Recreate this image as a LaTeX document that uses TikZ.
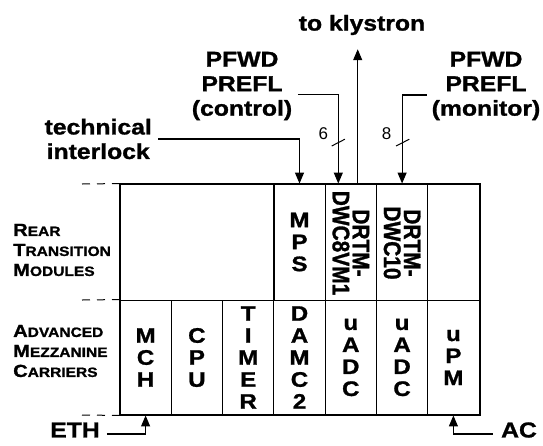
\documentclass[tikz,border=0pt]{standalone}
\usepackage{fontspec}
\setmainfont{Liberation Sans}
\newfontfamily\widefont{Liberation Sans}[FakeStretch=1.15,FakeBold=1.2]
\newfontfamily\stackfont{Liberation Sans}[FakeStretch=1.15,FakeBold=1.2]
\newfontfamily\tallfont{Liberation Sans}[FakeStretch=0.87,FakeBold=1.2]
\usetikzlibrary{arrows.meta,positioning}

% fake small caps: big initial, small rest
\newcommand{\fsc}[2]{{\fontsize{17.5}{20}\selectfont #1}{\fontsize{13.5}{20}\selectfont #2}}

\begin{document}
\begin{tikzpicture}[
      x=1pt, y=-1pt,
      cell/.style={draw, line width=0.9pt, inner sep=0pt, minimum width=51.3pt, align=center,
        font=\stackfont\bfseries\fontsize{21}{22}\selectfont},
      amc/.style={cell, minimum height=115pt},
      rtm/.style={cell, minimum height=116pt},
      vtext/.style={rotate=-90, align=center, inner sep=0pt,
        font=\tallfont\bfseries\fontsize{24}{20}\selectfont},
      lbl/.style={align=center, inner sep=0pt, font=\widefont\bfseries\fontsize{21.5}{24.5}\selectfont},
      side/.style={align=left, inner sep=0pt, anchor=west, font=\widefont\bfseries\fontsize{13}{20}\selectfont},
      count/.style={inner sep=0pt, font=\fontsize{17}{17}\selectfont},
      arr/.style={-{Triangle[length=11pt,width=9pt]}, line width=1.1pt},
      bus/.style={line width=1pt},
      guide/.style={dashed, dash pattern=on 8pt off 7pt, line width=1pt},
    ]
    \useasboundingbox (0,0) rectangle (543,445);

    % carrier row
    \node[amc] (mch) at (145.6,357.5) {M\\C\\H};
    \node[amc] (cpu) at (196.9,357.5) {C\\P\\U};
    \node[amc] (timer) at (248.2,357.5) {T\\I\\M\\E\\R};
    \node[amc] (damc) at (299.5,357.5) {D\\A\\M\\C\\2};
    \node[amc] (uadca) at (350.8,357.5) {u\\A\\D\\C};
    \node[amc] (uadcb) at (402.1,357.5) {u\\A\\D\\C};
    \node[amc] (upm) at (453.4,357.5) {u\\P\\M};

    % rear transition row
    \node[rtm, minimum width=153.9pt] (rtmfree) at (197,242) {};
    \node[rtm] (mps) at (299.5,242) {M\\P\\S};
    \node[rtm] (drtma) at (350.8,242) {};
    \node[rtm] (drtmb) at (402.1,242) {};
    \node[rtm] (rtmlast) at (453.4,242) {};
    \node[vtext] (drtmatext) at (350.8,243) {DRTM-\\DWC8VM1};
    \node[vtext] (drtmbtext) at (402.1,243) {DRTM-\\DWC10};

    \draw[line width=2pt] (rtmfree.north west) rectangle (upm.south east);

    % crate levels
    \coordinate (lvltop) at (82,184);
    \coordinate (lvlmid) at (82,300);
    \coordinate (lvlbot) at (82,415);
    \draw[guide] (lvltop) -- (rtmfree.north west);
    \draw[guide] (lvlmid) -- (mch.north west);
    \draw[guide] (lvlbot) -- (mch.south west);

    \node[side] (rtmlbl) at (13,250) {\fsc{R}{EAR}\\\fsc{T}{RANSITION}\\\fsc{M}{ODULES}};
    \node[side] (amclbl) at (13,351) {\fsc{A}{DVANCED}\\\fsc{M}{EZZANINE}\\\fsc{C}{ARRIERS}};

    % signals
    \node[lbl] (kly) at (362,25) {to klystron};
    \node[lbl] (ctl) at (242,86) {PFWD\\PREFL\\(control)};
    \node[lbl] (mon) at (486,86) {PFWD\\PREFL\\(monitor)};
    \node[lbl, anchor=east] (ti) at (152,139) {technical\\interlock};
    \node[lbl] (eth) at (75,430) {ETH};
    \node[lbl] (ac) at (519,430) {AC};

    \draw[arr] ([xshift=6.9pt]drtma.north) -- ([xshift=-4.3pt]kly.south) [shorten >=14pt];
    \draw[arr, shorten <=6pt] (ti.east) -| (mps.north);
    \draw[arr, shorten <=5.5pt] ([yshift=-8.3pt]ctl.east) -| ([xshift=-12.5pt]drtma.north);
    \draw[arr, shorten <=5pt] ([yshift=-9pt]mon.west) -| (drtmb.north);
    \draw[arr, shorten <=7pt] ([yshift=-4pt]eth.east) -| (mch.south);
    \draw[arr, shorten <=8pt] ([yshift=-4pt]ac.west) -| (upm.south);

    % bus widths
    \coordinate (ctlbus) at (338.3,142.6);
    \coordinate (monbus) at (402.7,142.6);
    \draw[bus] ([shift={(-6.6,3.4)}]ctlbus) -- ([shift={(6.6,-3.4)}]ctlbus);
    \draw[bus] ([shift={(-6.6,3.4)}]monbus) -- ([shift={(6.6,-3.4)}]monbus);
    \node[count] (ctlnum) at (323.3,133.3) {6};
    \node[count] (monnum) at (386.7,133.3) {8};
  \end{tikzpicture}
\end{document}
